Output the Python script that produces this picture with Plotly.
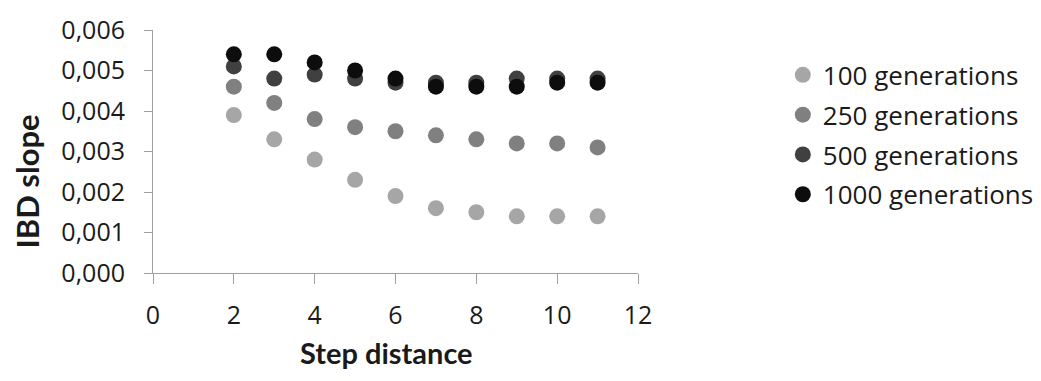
import plotly.graph_objects as go

# Step distances on the x axis
step_distance = [2, 3, 4, 5, 6, 7, 8, 9, 10, 11]

# IBD slope per number of generations
ibd_100 = [0.0039, 0.0033, 0.0028, 0.0023, 0.0019, 0.0016, 0.0015, 0.0014, 0.0014, 0.0014]
ibd_250 = [0.0046, 0.0042, 0.0038, 0.0036, 0.0035, 0.0034, 0.0033, 0.0032, 0.0032, 0.0031]
ibd_500 = [0.0051, 0.0048, 0.0049, 0.0048, 0.0047, 0.0047, 0.0047, 0.0048, 0.0048, 0.0048]
ibd_1000 = [0.0054, 0.0054, 0.0052, 0.0050, 0.0048, 0.0046, 0.0046, 0.0046, 0.0047, 0.0047]

series_names = ["100 generations", "250 generations", "500 generations", "1000 generations"]
series_values = [ibd_100, ibd_250, ibd_500, ibd_1000]
series_colors = ["#a6a6a6", "#808080", "#404040", "#0d0d0d"]

x_ticks = [0, 2, 4, 6, 8, 10, 12]
y_ticks = [0.000, 0.001, 0.002, 0.003, 0.004, 0.005, 0.006]

TICK_FONT = dict(family="Open Sans", size=25, color="#1a1a1a")
AXIS_GREY = "#a0a0a0"

fig = go.Figure()
for name, vals, col in zip(series_names, series_values, series_colors):
    fig.add_trace(go.Scatter(
        x=step_distance, y=vals, mode="markers", name=name,
        legendgroup=name,
        marker=dict(size=16, color=col, line=dict(width=0)),
    ))

fig.update_layout(
    width=1041, height=381,
    margin=dict(l=153, r=403, t=21, b=108),
    paper_bgcolor="white", plot_bgcolor="white",
    separators=",.",
    showlegend=True,
    legend=dict(
        xref="container", yref="container",
        x=0.752, y=0.865, xanchor="left", yanchor="top",
        font=dict(family="Open Sans", size=26, color="#1a1a1a"),
        tracegroupgap=3, itemwidth=30,
        bgcolor="rgba(0,0,0,0)",
    ),
)

fig.update_xaxes(
    range=[0, 12], tickvals=x_ticks, ticktext=[str(v) for v in x_ticks],
    showgrid=False, zeroline=False,
    showline=True, linecolor=AXIS_GREY, linewidth=1,
    ticks="outside", ticklen=10, tickcolor=AXIS_GREY, tickwidth=1,
    tickfont=TICK_FONT, ticklabelstandoff=10,
)
fig.update_yaxes(
    range=[0, 0.006], tickvals=y_ticks, tickformat=".3f",
    showgrid=False, zeroline=False,
    showline=True, linecolor=AXIS_GREY, linewidth=1,
    ticks="outside", ticklen=8, tickcolor=AXIS_GREY, tickwidth=1,
    tickfont=TICK_FONT, ticklabelstandoff=14,
)

# Axis titles
fig.add_annotation(
    text="<b>Step distance</b>", xref="paper", yref="paper",
    x=(386 - 153) / 485, y=-(355 - 273) / 252,
    xanchor="center", yanchor="middle", showarrow=False,
    font=dict(family="Lato", size=29, color="#1a1a1a"),
)
fig.add_annotation(
    text="<b>IBD slope</b>", xref="paper", yref="paper",
    x=-(153 - 27) / 485, y=(273 - 178) / 252,
    xanchor="center", yanchor="middle", showarrow=False, textangle=-90,
    font=dict(family="Lato", size=31, color="#1a1a1a"),
)

fig.write_html("out.html")
